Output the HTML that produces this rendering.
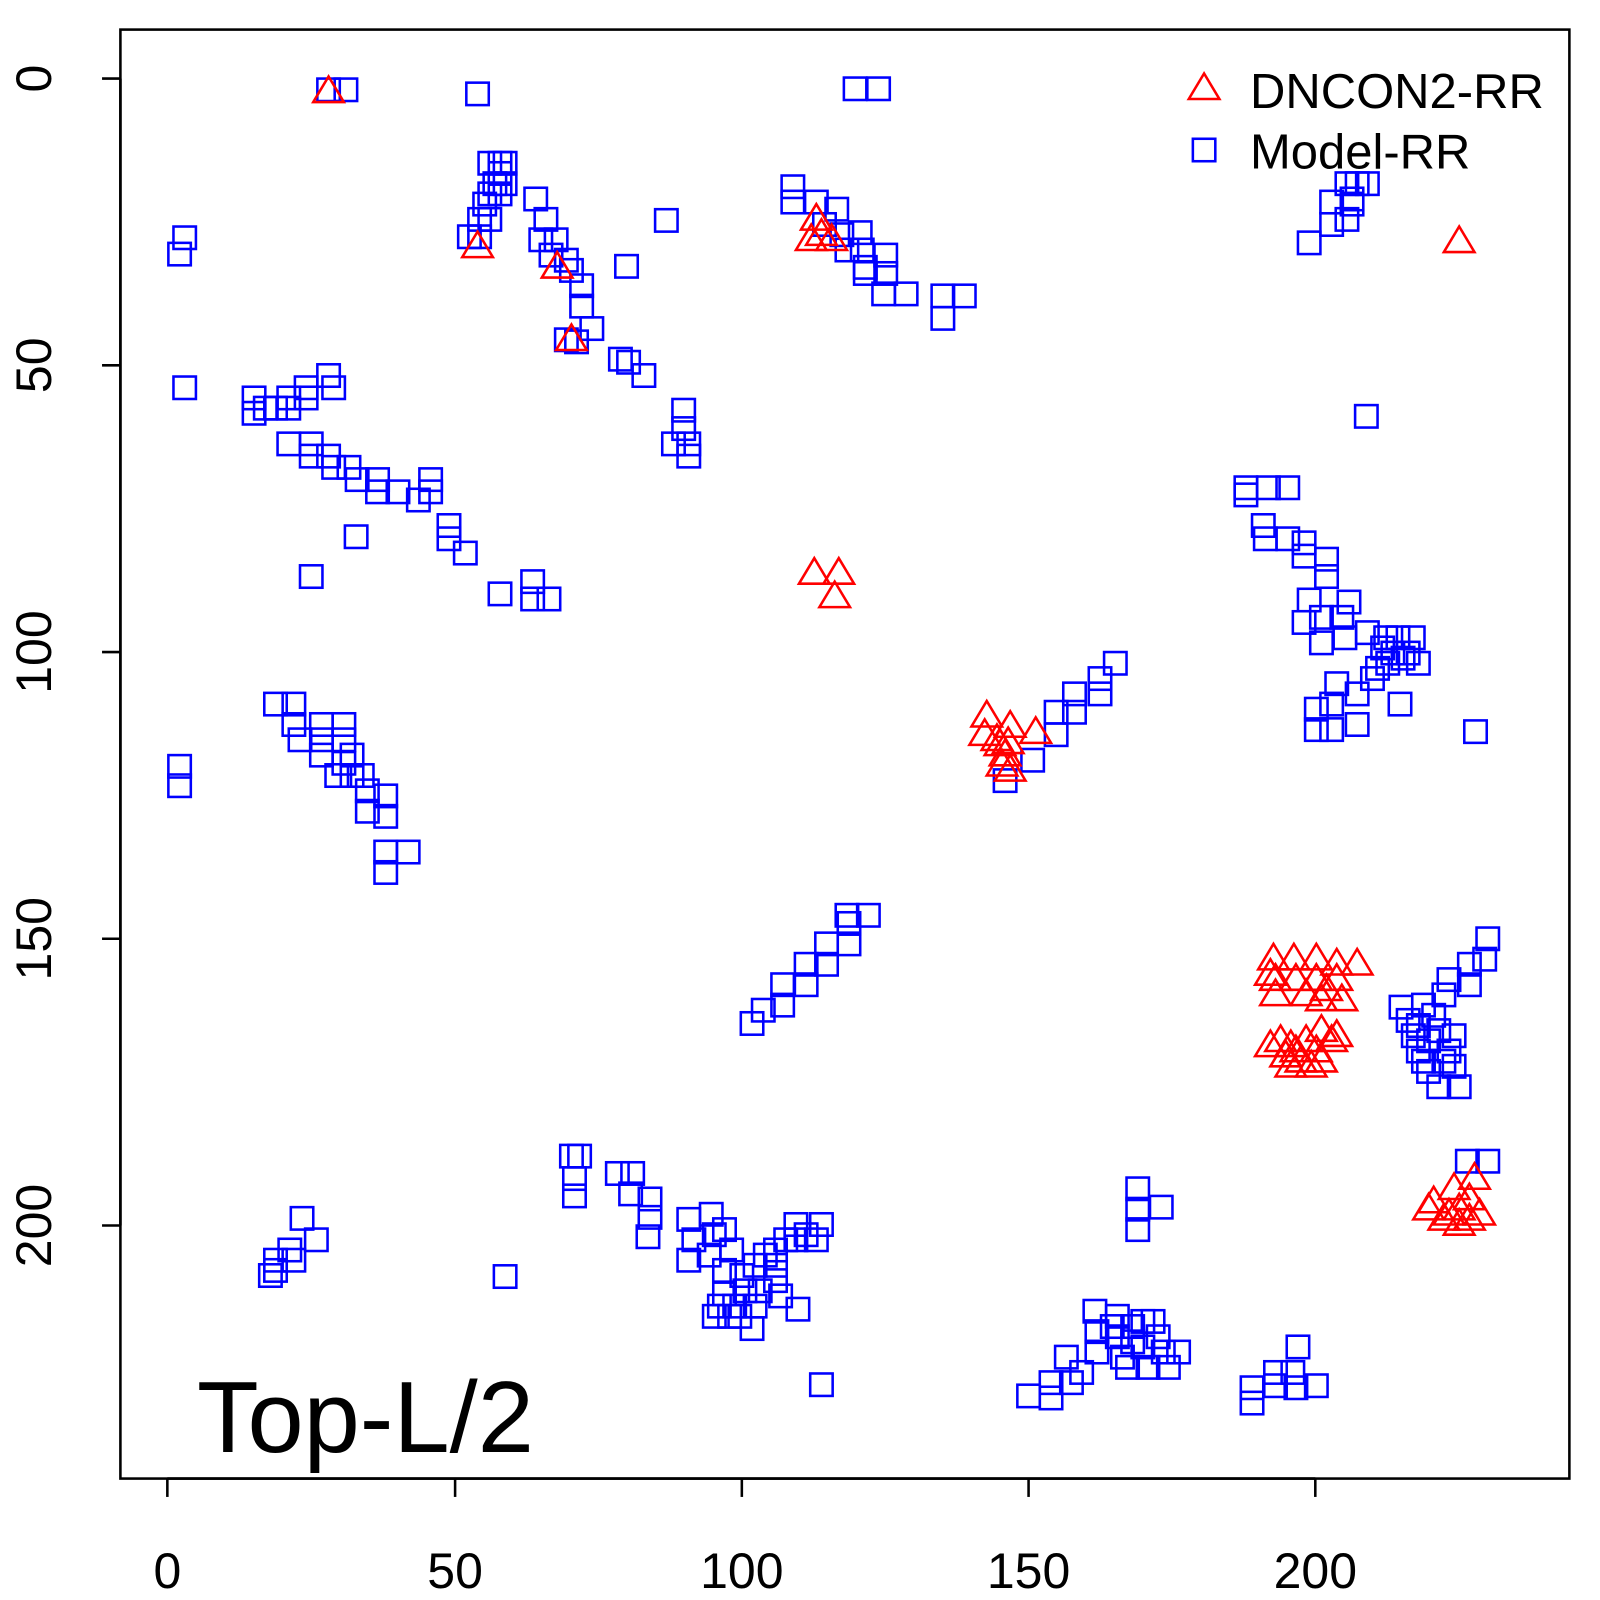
<!DOCTYPE html>
<html><head><meta charset="utf-8"><style>
html,body{margin:0;padding:0;background:#fff;}
svg{display:block;font-family:"Liberation Sans",sans-serif;}
</style></head><body>
<svg id="s" width="1600" height="1600" viewBox="0 0 1568 1568" xmlns="http://www.w3.org/2000/svg">
<rect x="118" y="29" width="1420" height="1420" fill="none" stroke="#000" stroke-width="2.5"/>
<g stroke="#000" stroke-width="2.5">
<line x1="164" y1="1449" x2="1289" y2="1449"/>
<line x1="164" y1="1449" x2="164" y2="1467"/><line x1="446" y1="1449" x2="446" y2="1467"/><line x1="727" y1="1449" x2="727" y2="1467"/><line x1="1008" y1="1449" x2="1008" y2="1467"/><line x1="1289" y1="1449" x2="1289" y2="1467"/>
<line x1="118" y1="77" x2="118" y2="1201"/>
<line x1="100" y1="77" x2="118" y2="77"/><line x1="100" y1="358" x2="118" y2="358"/><line x1="100" y1="639" x2="118" y2="639"/><line x1="100" y1="920" x2="118" y2="920"/><line x1="100" y1="1201" x2="118" y2="1201"/>
</g>
<g font-size="49" text-anchor="middle" fill="#000">
<text x="164" y="1556">0</text><text x="446" y="1556">50</text><text x="727" y="1556">100</text><text x="1008" y="1556">150</text><text x="1289" y="1556">200</text>
<text transform="translate(50,77) rotate(-90)">0</text>
<text transform="translate(50,358) rotate(-90)">50</text>
<text transform="translate(50,639) rotate(-90)">100</text>
<text transform="translate(50,920) rotate(-90)">150</text>
<text transform="translate(50,1201) rotate(-90)">200</text>
</g>
<text x="193" y="1423" font-size="99" fill="#000">Top-L/2</text>
<text x="1225" y="106" font-size="48" fill="#000">DNCON2-RR</text>
<text x="1225" y="165" font-size="48" fill="#000">Model-RR</text>
<g id="m"></g>
</svg>
<script>
var sq=[[1180,147],[322,88],[339,88],[468,92],[176,249],[181,233],[181,380],
[480,160],[490,160],[495,160],[490,170],[485,180],[495,180],[480,190],[490,190],[475,200],[470,215],[480,215],[460,232],[470,232],
[525,195],[535,215],[530,235],[545,235],[540,250],[555,255],[560,265],[570,280],[570,300],[580,322],[565,335],[555,333],
[653,216],[614,261],[608,352],[616,355],[631,368],[670,402],[670,420],[660,435],[675,435],[675,447],[838,87],[861,87],
[777,183],[777,198],[800,198],[820,205],[808,220],[825,230],[843,228],[830,245],[845,245],[848,262],[868,250],[868,268],[888,288],[866,288],[848,268],[924,290],[945,290],[924,312],
[1283,238],[1305,198],[1305,220],[1320,215],[1325,200],[1320,180],[1330,180],[1340,180],[1325,195],[1339,408],
[249,390],[249,405],[260,400],[270,400],[283,400],[283,390],[300,380],[300,390],[322,368],[327,380],[283,435],[305,435],[305,447],[322,447],[327,458],[342,458],[350,470],[370,470],[370,482],[390,482],[410,490],[422,470],[422,482],[440,515],[440,528],[456,542],[349,526],[305,565],
[490,582],[522,570],[522,587],[538,587],
[270,690],[288,690],[288,710],[294,725],[315,710],[315,725],[315,740],[337,710],[337,725],[337,748],[330,760],[345,760],[345,740],[355,760],[360,775],[360,795],[378,780],[378,800],[378,835],[378,855],[400,835],
[176,751],[176,770],
[1093,650],[1078,665],[1078,680],[1053,680],[1053,698],[1035,698],[1035,720],[1012,745],[985,765],
[1221,478],[1221,485],[1243,478],[1262,478],[1238,515],[1240,528],[1262,528],[1278,532],[1278,545],[1300,548],[1300,565],[1283,588],[1322,590],[1278,610],[1295,605],[1295,630],[1315,605],[1318,625],[1290,695],[1290,715],[1305,690],[1305,715],[1310,670],[1330,680],[1330,710],[1345,665],[1360,650],[1358,625],[1365,640],[1370,625],[1375,645],[1385,625],[1390,650],[1372,690],[1340,620],[1355,635],[1350,655],[1380,640],
[1446,717],
[737,1003],[748,990],[767,985],[767,965],[790,965],[790,945],[810,945],[810,925],[832,925],[832,905],[851,897],[830,897],
[1373,987],[1395,985],[1390,1005],[1390,1030],[1410,1010],[1400,1050],[1415,975],[1420,1030],[1425,1045],[1430,1065],[1410,1065],[1440,945],[1440,965],[1455,940],[1458,920],[1420,960],[1385,1015],[1380,1000],[1400,1020],[1415,1040],[1395,1040],[1405,995],[1425,1015],
[560,1133],[568,1133],[563,1155],[563,1172],[605,1150],[620,1150],[618,1170],[637,1175],[637,1193],[635,1212],[675,1195],[680,1215],[675,1235],[697,1190],[700,1210],[710,1205],[717,1225],[695,1230],[710,1245],[727,1250],[740,1240],[760,1225],[780,1200],[805,1200],[800,1215],[780,1215],[760,1255],[782,1283],[740,1280],[710,1268],[720,1280],[737,1302],[715,1290],[745,1265],[760,1240],[730,1265],[750,1230],[770,1215],[790,1210],[725,1290],[700,1290],[765,1270],[705,1280],
[296,1194],[270,1235],[288,1235],[310,1215],[265,1250],[284,1225],[270,1245],[495,1251],
[1115,1165],[1115,1185],[1115,1205],[1138,1183],
[1073,1285],[1095,1290],[1095,1310],[1110,1300],[1120,1320],[1135,1310],[1140,1325],[1155,1325],[1145,1340],[1125,1340],[1075,1325],[1060,1345],[1045,1330],[1030,1355],[1008,1368],[1030,1370],[1050,1355],[1075,1305],[1120,1295],[1100,1330],[1110,1315],[1130,1295],[1090,1300],[1105,1340],
[1227,1375],[1227,1360],[1250,1345],[1267,1345],[1272,1320],[1290,1358],[1250,1358],[1270,1360],[805,1357],[1438,1138],[1458,1138]];
var tr=[[1180,87],[322,90],[468,242],[546,262],[560,333],[800,215],[805,230],[795,235],[815,235],[798,562],[822,562],[818,585],
[967,702],[965,720],[977,725],[990,712],[985,740],[990,755],[1015,718],[980,730],[988,728],[982,750],
[1248,940],[1268,940],[1290,940],[1310,945],[1330,945],[1250,975],[1270,960],[1290,960],[1310,960],[1295,980],[1315,980],[1245,1025],[1265,1025],[1275,1040],[1290,1030],[1305,1020],[1285,1045],[1265,1045],[1310,1015],[1250,960],[1280,975],[1260,1035],[1295,1040],[1300,970],[1255,1020],[1280,1020],[1295,1010],[1270,1030],[1245,955],
[1405,1178],[1420,1190],[1425,1165],[1440,1175],[1445,1155],[1450,1190],[1430,1200],[1415,1195],[1430,1185],[1400,1185],[1440,1195],[1430,237]];
var h='';
sq.forEach(function(p){h+='<rect x="'+(p[0]-11)+'" y="'+(p[1]-11)+'" width="22" height="22" fill="none" stroke="#0000ff" stroke-width="2.5"/>';});
tr.forEach(function(p){var x=p[0],y=p[1];h+='<polygon points="'+(x-15)+','+(y+10)+' '+x+','+(y-15)+' '+(x+15)+','+(y+10)+'" fill="none" stroke="#ff0000" stroke-width="2.5"/>';});
document.getElementById('m').innerHTML=h;
</script>
</body></html>
